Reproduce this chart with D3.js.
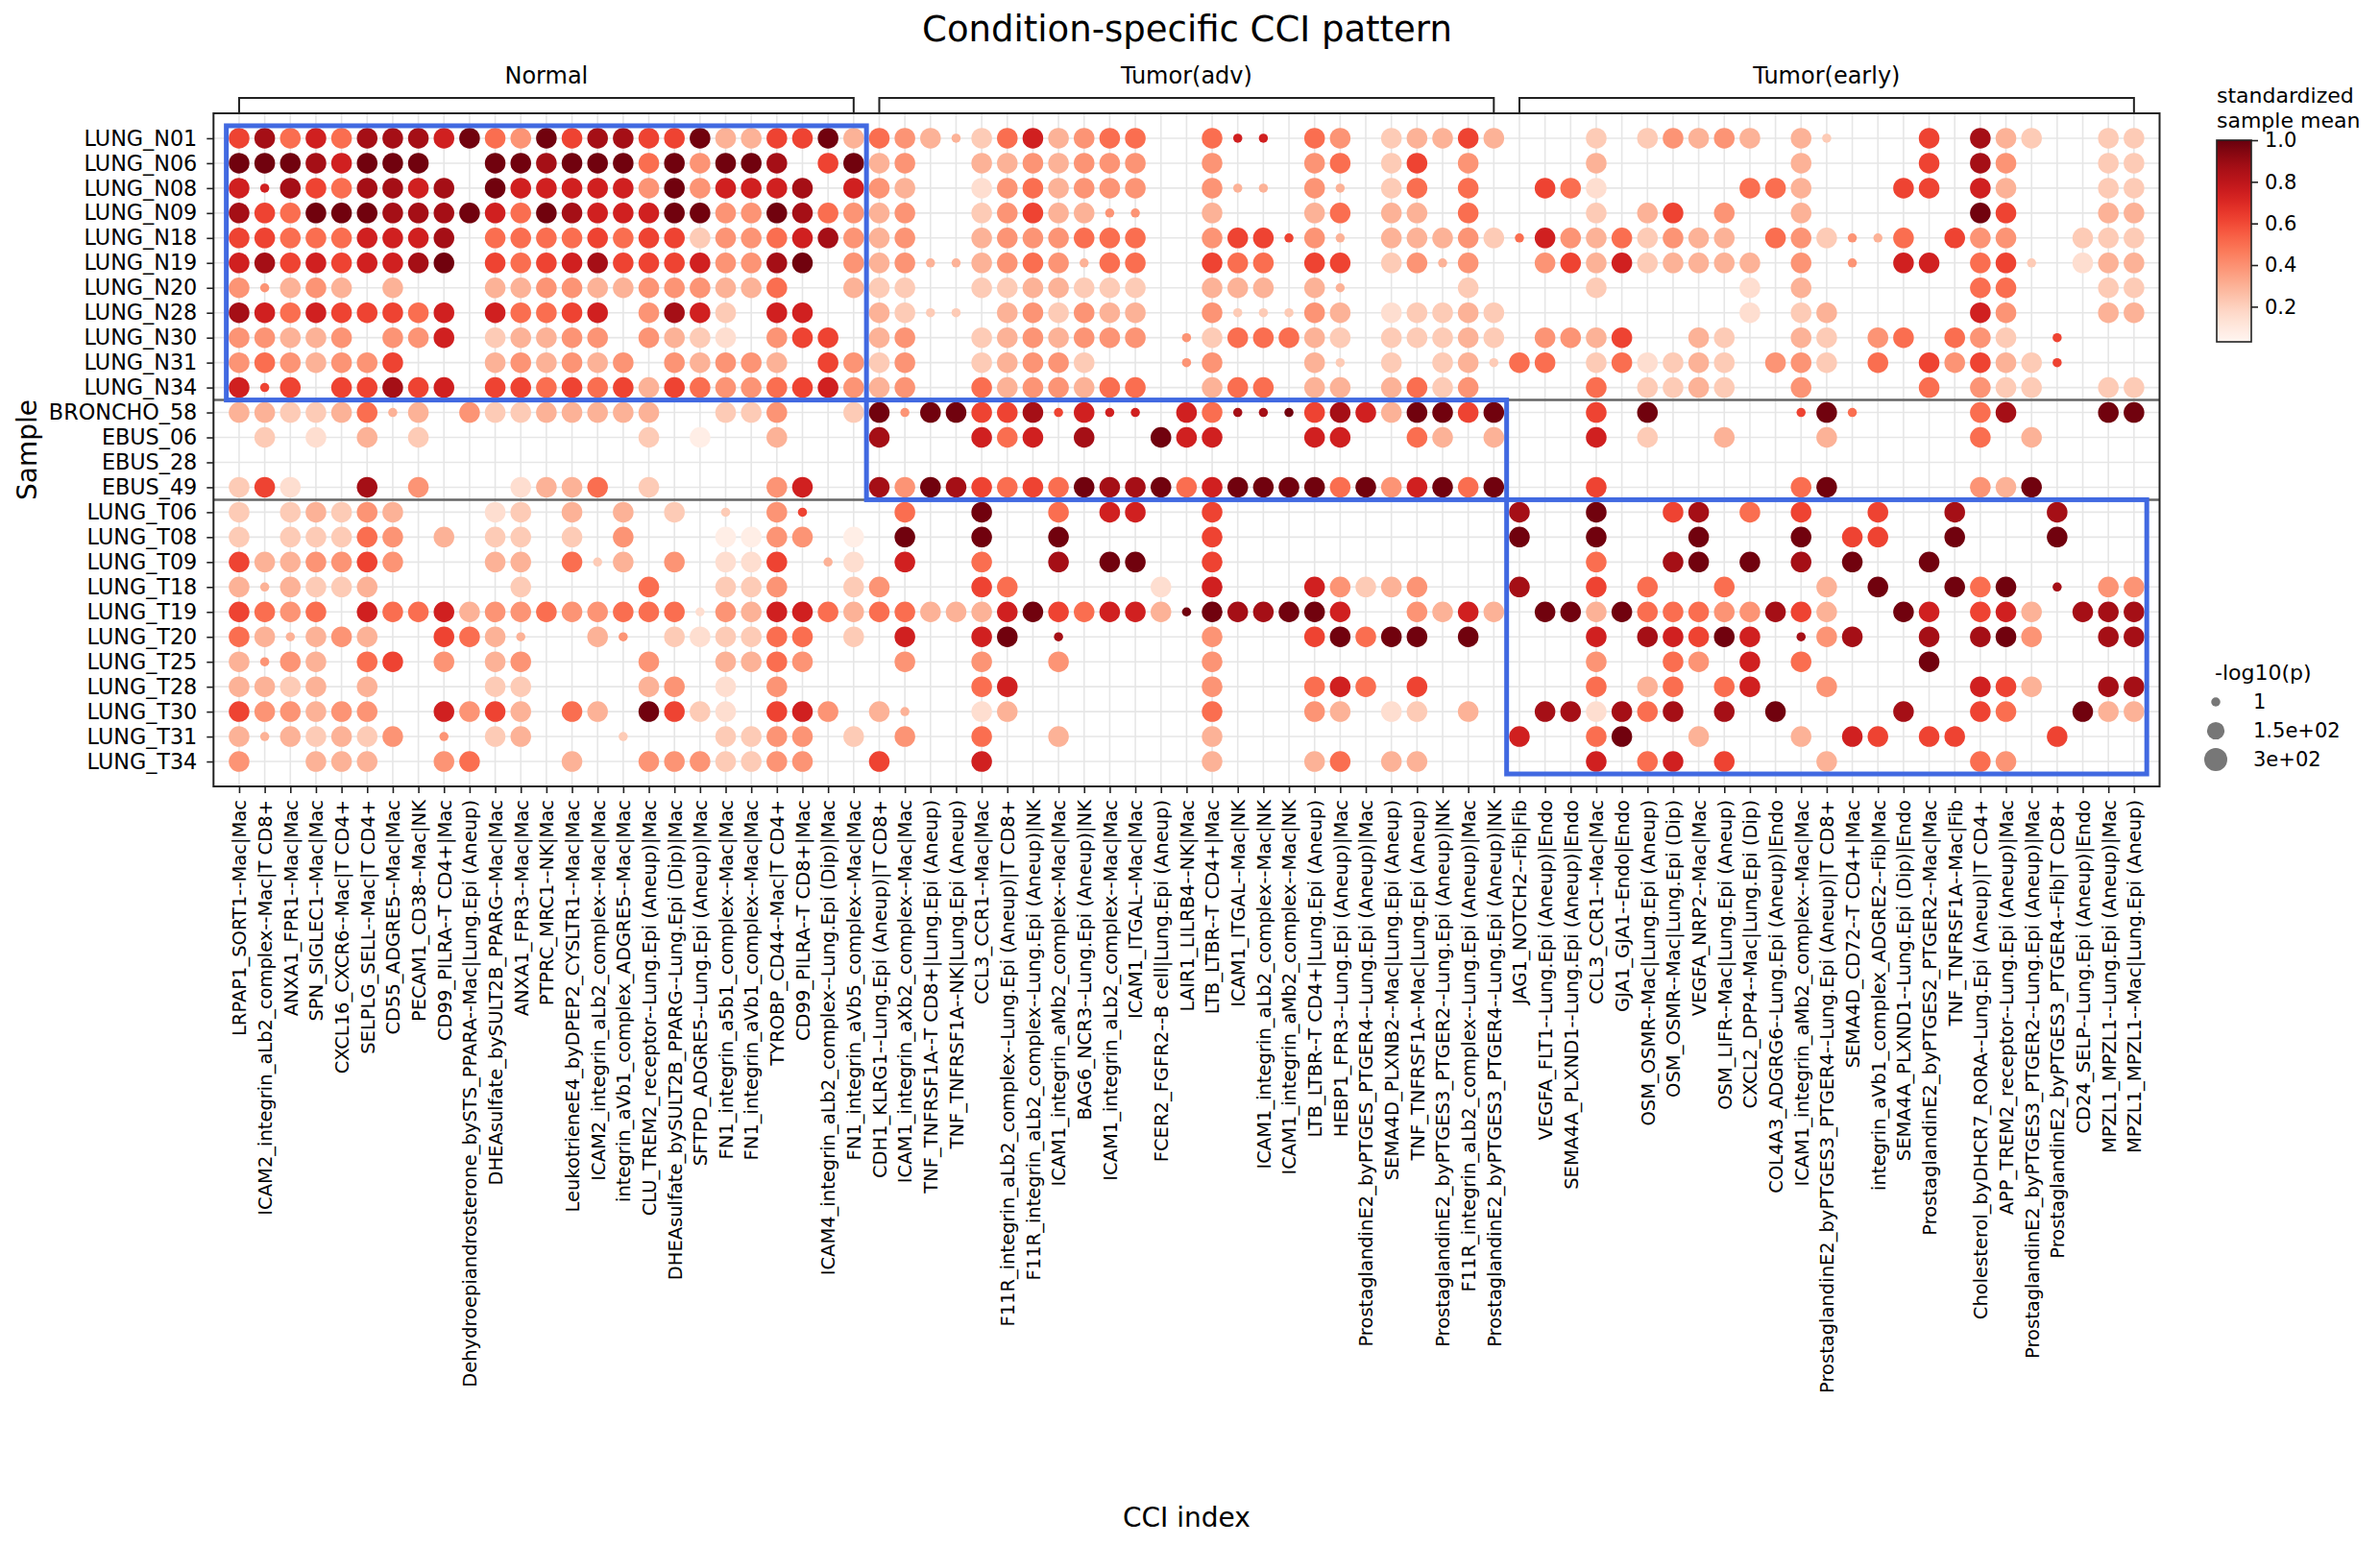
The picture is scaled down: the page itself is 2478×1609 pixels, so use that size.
<!DOCTYPE html>
<html>
<head>
<meta charset="utf-8">
<script src="https://cdn.jsdelivr.net/npm/d3@7"></script>
<style>
  body { margin: 0; background: #fff; }
  text { font-family: "DejaVu Sans", sans-serif; fill: #000; }
</style>
</head>
<body>
<div id="wrapper"></div>
<script>
// Samples (rows), top to bottom
const samples = [
  "LUNG_N01", "LUNG_N06", "LUNG_N08", "LUNG_N09", "LUNG_N18", "LUNG_N19",
  "LUNG_N20", "LUNG_N28", "LUNG_N30", "LUNG_N31", "LUNG_N34",
  "BRONCHO_58", "EBUS_06", "EBUS_28", "EBUS_49",
  "LUNG_T06", "LUNG_T08", "LUNG_T09", "LUNG_T18", "LUNG_T19", "LUNG_T20",
  "LUNG_T25", "LUNG_T28", "LUNG_T30", "LUNG_T31", "LUNG_T34",
];
const sampleGroupSizes = [11, 4, 11];
const groupNames = ["Normal", "Tumor(adv)", "Tumor(early)"];
const cciGroupSizes = [25, 25, 25];

// CCI index (columns), left to right
const cciLabels = [
  "LRPAP1_SORT1--Mac|Mac",
  "ICAM2_integrin_aLb2_complex--Mac|T CD8+",
  "ANXA1_FPR1--Mac|Mac",
  "SPN_SIGLEC1--Mac|Mac",
  "CXCL16_CXCR6--Mac|T CD4+",
  "SELPLG_SELL--Mac|T CD4+",
  "CD55_ADGRE5--Mac|Mac",
  "PECAM1_CD38--Mac|NK",
  "CD99_PILRA--T CD4+|Mac",
  "Dehydroepiandrosterone_bySTS_PPARA--Mac|Lung.Epi (Aneup)",
  "DHEAsulfate_bySULT2B_PPARG--Mac|Mac",
  "ANXA1_FPR3--Mac|Mac",
  "PTPRC_MRC1--NK|Mac",
  "LeukotrieneE4_byDPEP2_CYSLTR1--Mac|Mac",
  "ICAM2_integrin_aLb2_complex--Mac|Mac",
  "integrin_aVb1_complex_ADGRE5--Mac|Mac",
  "CLU_TREM2_receptor--Lung.Epi (Aneup)|Mac",
  "DHEAsulfate_bySULT2B_PPARG--Lung.Epi (Dip)|Mac",
  "SFTPD_ADGRE5--Lung.Epi (Aneup)|Mac",
  "FN1_integrin_a5b1_complex--Mac|Mac",
  "FN1_integrin_aVb1_complex--Mac|Mac",
  "TYROBP_CD44--Mac|T CD4+",
  "CD99_PILRA--T CD8+|Mac",
  "ICAM4_integrin_aLb2_complex--Lung.Epi (Dip)|Mac",
  "FN1_integrin_aVb5_complex--Mac|Mac",
  "CDH1_KLRG1--Lung.Epi (Aneup)|T CD8+",
  "ICAM1_integrin_aXb2_complex--Mac|Mac",
  "TNF_TNFRSF1A--T CD8+|Lung.Epi (Aneup)",
  "TNF_TNFRSF1A--NK|Lung.Epi (Aneup)",
  "CCL3_CCR1--Mac|Mac",
  "F11R_integrin_aLb2_complex--Lung.Epi (Aneup)|T CD8+",
  "F11R_integrin_aLb2_complex--Lung.Epi (Aneup)|NK",
  "ICAM1_integrin_aMb2_complex--Mac|Mac",
  "BAG6_NCR3--Lung.Epi (Aneup)|NK",
  "ICAM1_integrin_aLb2_complex--Mac|Mac",
  "ICAM1_ITGAL--Mac|Mac",
  "FCER2_FGFR2--B cell|Lung.Epi (Aneup)",
  "LAIR1_LILRB4--NK|Mac",
  "LTB_LTBR--T CD4+|Mac",
  "ICAM1_ITGAL--Mac|NK",
  "ICAM1_integrin_aLb2_complex--Mac|NK",
  "ICAM1_integrin_aMb2_complex--Mac|NK",
  "LTB_LTBR--T CD4+|Lung.Epi (Aneup)",
  "HEBP1_FPR3--Lung.Epi (Aneup)|Mac",
  "ProstaglandinE2_byPTGES_PTGER4--Lung.Epi (Aneup)|Mac",
  "SEMA4D_PLXNB2--Mac|Lung.Epi (Aneup)",
  "TNF_TNFRSF1A--Mac|Lung.Epi (Aneup)",
  "ProstaglandinE2_byPTGES3_PTGER2--Lung.Epi (Aneup)|NK",
  "F11R_integrin_aLb2_complex--Lung.Epi (Aneup)|Mac",
  "ProstaglandinE2_byPTGES3_PTGER4--Lung.Epi (Aneup)|NK",
  "JAG1_NOTCH2--Fib|Fib",
  "VEGFA_FLT1--Lung.Epi (Aneup)|Endo",
  "SEMA4A_PLXND1--Lung.Epi (Aneup)|Endo",
  "CCL3_CCR1--Mac|Mac",
  "GJA1_GJA1--Endo|Endo",
  "OSM_OSMR--Mac|Lung.Epi (Aneup)",
  "OSM_OSMR--Mac|Lung.Epi (Dip)",
  "VEGFA_NRP2--Mac|Mac",
  "OSM_LIFR--Mac|Lung.Epi (Aneup)",
  "CXCL2_DPP4--Mac|Lung.Epi (Dip)",
  "COL4A3_ADGRG6--Lung.Epi (Aneup)|Endo",
  "ICAM1_integrin_aMb2_complex--Mac|Mac",
  "ProstaglandinE2_byPTGES3_PTGER4--Lung.Epi (Aneup)|T CD8+",
  "SEMA4D_CD72--T CD4+|Mac",
  "integrin_aVb1_complex_ADGRE2--Fib|Mac",
  "SEMA4A_PLXND1--Lung.Epi (Dip)|Endo",
  "ProstaglandinE2_byPTGES2_PTGER2--Mac|Mac",
  "TNF_TNFRSF1A--Mac|Fib",
  "Cholesterol_byDHCR7_RORA--Lung.Epi (Aneup)|T CD4+",
  "APP_TREM2_receptor--Lung.Epi (Aneup)|Mac",
  "ProstaglandinE2_byPTGES3_PTGER2--Lung.Epi (Aneup)|Mac",
  "ProstaglandinE2_byPTGES3_PTGER4--Fib|T CD8+",
  "CD24_SELP--Lung.Epi (Aneup)|Endo",
  "MPZL1_MPZL1--Lung.Epi (Aneup)|Mac",
  "MPZL1_MPZL1--Mac|Lung.Epi (Aneup)",
];

// Per sample, one char per CCI: "." = no dot, digit 0-9 = mean level (large dot),
// letter a-j = mean level 0-9 with a small dot (-log10(p) ~ 1)
const meanCodes = [
  "6857588879549688669336693 543d2573455..5hh.54.23363 ...2.24343.3c...6.832..22",
  "99987999..998999594998.69 34..3343444..4...45.26.4. ...3.......3....6.84...22",
  "7h8658878.9777774947778.7 43..1453444..4dd.4d.25.5. .651.....553...66.73...22",
  "8659998889759877799449854 34..24633ee..3...35.33.5. ...2.36.4..3......96...33",
  "665557778.555565662445784 34..3444555..466g4d.33342 f74352433.542ed5.644..222",
  "786767789.6567866674489.4 34dd3454d55..655.66.24d4. .463723333.4.e.77.56c.133",
  "4e343.3...334433444335..3 22..2233222..333.3d....2. ...2.....1.3......55...22",
  "875766657.75567.4872.77.. 32cc.342433..4ccc43.12232 .........1.23.....74...33",
  "44334.447.23344.4321.466. 34..2343444.e255532.22232 .4436..32..32.45.542.g...",
  "4543446...343434.43443.64 24..23442...e4...3c.2.23c 55.251232.442.5.64632g...",
  "7g6.66867.665656365445674 34..5344355..355.33.3524. ...5.2232..4....5.422..22",
  "332235d3.42233333..224..2 9e99668g7hh.75iij68739969 ...6.9.....g9f....58...99",
  ".2.1.3.2........2.0..3... 8...757.8..977...77..53.3 ...7.2..3...3.....5.3....",
  "......................... ......................... .........................",
  "261..8.4...1335.2....47.. 8498656598895799995947959 ...6.......59.....439....",
  "2.23243...12.3.3.2.c.4g.. .5..9..5.77..6........... 8..9..68.5.6..6..8...8...",
  "2.22254.3.22.2.4...0044.0 .9..9..9.....6........... 9..9...9...9.66..9...9...",
  "6334464...33.5c3.4.116.d1 .7..5..8.99..6........... ...5..89.9.8.9..9........",
  "3d3223.....2....5..224..2 4...65.....1.7...74234... 8..6.5..5...3.9..959.i.44",
  "6545.7557344544555b437753 553337965773j988997..4373 .993955544863..97.673.888",
  "53d343..653d..3e.212255.2 .7..79.i.....4...69599.9. ...7.87697.i48..8.894..88",
  "3e43.56.4.34....4..3354.. .4..4..4.....4........... ...4..54.7.5....9........",
  "3323.3....22....34.1.4... ....57.......4...575.6... ...5.35.57..4.....763..88",
  "644344..7463.53.9621.674. 3d..13.......5...43.12.3. .881858.8.9....8..65..933",
  "3d32324.e.23...c...2244.2 .4..5..3.....3........... 7..59..3...3.76.66...6...",
  "4..333..45...3..4442244.. 6...7........3...35.33... ...7.57.6...3.....54.....",
];
const meanLevels = [0.07, 0.15, 0.22, 0.3, 0.39, 0.5, 0.62, 0.74, 0.87, 0.98];
const pLarge = 230;
const pSmall = 1;

const colorTicks = [0.2, 0.4, 0.6, 0.8, 1.0];
const sizeTicks = [1, 150, 300];
const sizeTickLabels = ["1", "1.5e+02", "3e+02"];

// Decode into cells
const cells = [];
meanCodes.forEach((codeRow, r) => {
  const s = codeRow.replace(/ /g, "");
  if (s.length !== cciLabels.length) throw new Error(`row ${samples[r]} has ${s.length}`);
  for (let c = 0; c < s.length; c++) {
    const ch = s[c];
    if (ch === ".") continue;
    const isDigit = ch >= "0" && ch <= "9";
    const level = isDigit ? +ch : ch.charCodeAt(0) - 97;
    cells.push({ row: r, col: c, mean: meanLevels[level], p: isDigit ? pLarge : pSmall });
  }
});

// Dimensions
const dimensions = {
  width: 2478,
  height: 1609,
  margin: { top: 118, left: 222.3 },
  boundedWidth: 2026.2,
  boundedHeight: 701,
};
const x0 = dimensions.margin.left;
const y0 = dimensions.margin.top;
const x1 = x0 + dimensions.boundedWidth;
const y1 = y0 + dimensions.boundedHeight;

const svg = d3.select("#wrapper").append("svg")
  .attr("width", dimensions.width)
  .attr("height", dimensions.height);

// Scales
const xScale = d3.scaleLinear().domain([-1, cciLabels.length]).range([x0, x1]);
const yScale = d3.scaleLinear().domain([-1, samples.length]).range([y0, y1]);
const vmin = 0.031;
const colorScale = d3.scaleSequential(d3.interpolateReds).domain([vmin, 1]);
const areaScale = d3.scaleLinear().domain([1, 300]).range([90.25, 576]);
const radius = (p) => Math.sqrt(areaScale(p)) / 2;

// Grid
const grid = svg.append("g").attr("stroke", "#e6e6e6").attr("stroke-width", 1.6);
grid.selectAll(".vg").data(d3.range(cciLabels.length)).join("line")
  .attr("x1", (d) => xScale(d)).attr("x2", (d) => xScale(d))
  .attr("y1", y0).attr("y2", y1);
grid.selectAll(".hg").data(d3.range(samples.length)).join("line")
  .attr("y1", (d) => yScale(d)).attr("y2", (d) => yScale(d))
  .attr("x1", x0).attr("x2", x1);

// Dots
svg.append("g").selectAll("circle").data(cells).join("circle")
  .attr("cx", (d) => xScale(d.col))
  .attr("cy", (d) => yScale(d.row))
  .attr("r", (d) => radius(d.p))
  .attr("fill", (d) => colorScale(d.mean));

// Separators between sample groups
const sepRows = d3.cumsum(sampleGroupSizes).slice(0, -1);
svg.append("g").selectAll("line").data(sepRows).join("line")
  .attr("x1", x0).attr("x2", x1)
  .attr("y1", (d) => yScale(d - 0.5)).attr("y2", (d) => yScale(d - 0.5))
  .attr("stroke", "#666").attr("stroke-width", 2.5);

// Highlight boxes: condition-specific block
const colStarts = [0, ...d3.cumsum(cciGroupSizes)];
const rowStarts = [0, ...d3.cumsum(sampleGroupSizes)];
svg.append("g").selectAll("rect").data(groupNames).join("rect")
  .attr("x", (d, i) => xScale(colStarts[i] - 0.5))
  .attr("y", (d, i) => yScale(rowStarts[i] - 0.5))
  .attr("width", (d, i) => xScale(colStarts[i + 1] - 0.5) - xScale(colStarts[i] - 0.5))
  .attr("height", (d, i) => yScale(rowStarts[i + 1] - 0.5) - yScale(rowStarts[i] - 0.5))
  .attr("fill", "none").attr("stroke", "#4169e1").attr("stroke-width", 5);

// Frame
svg.append("rect")
  .attr("x", x0).attr("y", y0)
  .attr("width", dimensions.boundedWidth).attr("height", dimensions.boundedHeight)
  .attr("fill", "none").attr("stroke", "#222").attr("stroke-width", 2);

// Axes
const xAxis = svg.append("g")
  .attr("transform", `translate(0,${y1})`)
  .call(d3.axisBottom(xScale).tickValues(d3.range(cciLabels.length))
    .tickFormat((i) => cciLabels[i]).tickSize(7).tickSizeOuter(0));
xAxis.select(".domain").remove();
xAxis.selectAll("line").attr("stroke", "#222").attr("stroke-width", 1.6);
xAxis.selectAll("text")
  .attr("font-family", "DejaVu Sans").attr("font-size", 19.5).attr("fill", "#000")
  .attr("transform", "rotate(-90)")
  .attr("text-anchor", "end")
  .attr("x", -14).attr("y", 0).attr("dy", "0.35em");

const yAxis = svg.append("g")
  .attr("transform", `translate(${x0},0)`)
  .call(d3.axisLeft(yScale).tickValues(d3.range(samples.length))
    .tickFormat((i) => samples[i]).tickSize(7).tickPadding(10).tickSizeOuter(0));
yAxis.select(".domain").remove();
yAxis.selectAll("line").attr("stroke", "#222").attr("stroke-width", 1.6);
yAxis.selectAll("text")
  .attr("font-family", "DejaVu Sans").attr("font-size", 22.3).attr("fill", "#000");

// Group brackets on top
const brackets = svg.append("g");
groupNames.forEach((name, i) => {
  const bx0 = xScale(colStarts[i]);
  const bx1 = xScale(colStarts[i + 1] - 1);
  brackets.append("path")
    .attr("d", `M${bx0},${y0} V102 H${bx1} V${y0}`)
    .attr("fill", "none").attr("stroke", "#222").attr("stroke-width", 2);
  brackets.append("text")
    .attr("x", (bx0 + bx1) / 2).attr("y", 87)
    .attr("text-anchor", "middle").attr("font-size", 24)
    .text(name);
});

// Titles
svg.append("text").attr("x", 1236).attr("y", 43)
  .attr("text-anchor", "middle").attr("font-size", 37)
  .text("Condition-specific CCI pattern");
svg.append("text").attr("x", (x0 + x1) / 2).attr("y", 1590)
  .attr("text-anchor", "middle").attr("font-size", 28)
  .text("CCI index");
svg.append("text")
  .attr("transform", `translate(28,${(y0 + y1) / 2}) rotate(-90)`)
  .attr("text-anchor", "middle").attr("dominant-baseline", "central")
  .attr("font-size", 28)
  .text("Sample");

// Colorbar
const cb = { x: 2308, y: 146, w: 36, h: 210 };
const defs = svg.append("defs");
const grad = defs.append("linearGradient").attr("id", "reds-grad")
  .attr("x1", 0).attr("x2", 0).attr("y1", 1).attr("y2", 0);
d3.range(0, 1.0001, 0.05).forEach((t) => {
  grad.append("stop").attr("offset", t)
    .attr("stop-color", colorScale(vmin + t * (1 - vmin)));
});
svg.append("rect").attr("x", cb.x).attr("y", cb.y).attr("width", cb.w).attr("height", cb.h)
  .attr("fill", "url(#reds-grad)").attr("stroke", "#222").attr("stroke-width", 1.6);
const cbScale = d3.scaleLinear().domain([vmin, 1]).range([cb.y + cb.h, cb.y]);
const cbAxis = svg.append("g")
  .attr("transform", `translate(${cb.x + cb.w},0)`)
  .call(d3.axisRight(cbScale).tickValues(colorTicks).tickFormat(d3.format(".1f"))
    .tickSize(7).tickPadding(7));
cbAxis.select(".domain").remove();
cbAxis.selectAll("line").attr("stroke", "#222").attr("stroke-width", 1.6);
cbAxis.selectAll("text").attr("font-family", "DejaVu Sans").attr("font-size", 21).attr("fill", "#000");
svg.append("text").attr("x", cb.x).attr("y", 107).attr("font-size", 22).text("standardized");
svg.append("text").attr("x", cb.x).attr("y", 133).attr("font-size", 22).text("sample mean");

// Size legend
svg.append("text").attr("x", 2306).attr("y", 708).attr("font-size", 22).text("-log10(p)");
const sizeLegend = svg.append("g").selectAll("g").data(sizeTicks).join("g")
  .attr("transform", (d, i) => `translate(2307,${731 + i * 30})`);
sizeLegend.append("circle").attr("r", (d) => radius(d)).attr("fill", "#777");
sizeLegend.append("text").attr("x", 39).attr("dominant-baseline", "central")
  .attr("font-size", 21).text((d, i) => sizeTickLabels[i]);
</script>
</body>
</html>
